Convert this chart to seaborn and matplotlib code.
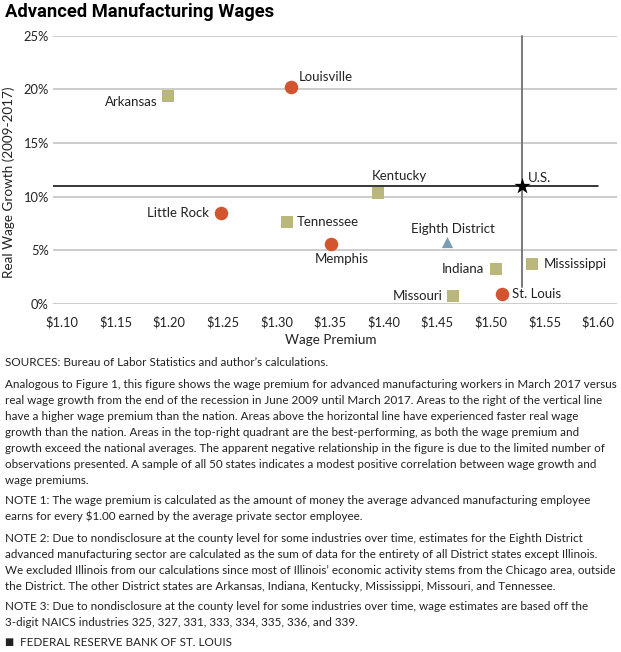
import matplotlib
matplotlib.use("Agg")
import matplotlib.pyplot as plt
import seaborn as sns
import pandas as pd

# ---------------- data ----------------
names = ["Arkansas", "Louisville", "Little Rock", "Tennessee", "Kentucky", "Memphis",
         "Eighth District", "Indiana", "Mississippi", "Missouri", "St. Louis", "U.S."]
premium = [1.199, 1.314, 1.248, 1.310, 1.395, 1.351, 1.459, 1.505, 1.538, 1.465, 1.510, 1.529]
growth = [19.4, 20.2, 8.5, 7.6, 10.3, 5.6, 5.8, 3.3, 3.7, 0.7, 0.9, 11.0]
kind = ["State", "City", "City", "State", "State", "City",
        "District", "State", "State", "State", "City", "Nation"]

us_premium = 1.529
us_growth = 11.0

x_ticks = [1.10, 1.15, 1.20, 1.25, 1.30, 1.35, 1.40, 1.45, 1.50, 1.55, 1.60]
x_tick_labels = ["$1.10", "$1.15", "$1.20", "$1.25", "$1.30", "$1.35", "$1.40",
                 "$1.45", "$1.50", "$1.55", "$1.60"]
y_ticks = [0, 5, 10, 15, 20, 25]
y_tick_labels = ["0%", "5%", "10%", "15%", "20%", "25%"]

title = "Advanced Manufacturing Wages"
x_label = "Wage Premium"
y_label = "Real Wage Growth (2009-2017)"

notes = [
    ["SOURCES: Bureau of Labor Statistics and author\u2019s calculations."],
    ["Analogous to Figure 1, this figure shows the wage premium for advanced manufacturing workers in March 2017 versus",
     "real wage growth from the end of the recession in June 2009 until March 2017. Areas to the right of the vertical line",
     "have a higher wage premium than the nation. Areas above the horizontal line have experienced faster real wage",
     "growth than the nation. Areas in the top-right quadrant are the best-performing, as both the wage premium and",
     "growth exceed the national averages. The apparent negative relationship in the figure is due to the limited number of",
     "observations presented. A sample of all 50 states indicates a modest positive correlation between wage growth and",
     "wage premiums."],
    ["NOTE 1: The wage premium is calculated as the amount of money the average advanced manufacturing employee",
     "earns for every $1.00 earned by the average private sector employee."],
    ["NOTE 2: Due to nondisclosure at the county level for some industries over time, estimates for the Eighth District",
     "advanced manufacturing sector are calculated as the sum of data for the entirety of all District states except Illinois.",
     "We excluded Illinois from our calculations since most of Illinois\u2019 economic activity stems from the Chicago area, outside",
     "the District. The other District states are Arkansas, Indiana, Kentucky, Mississippi, Missouri, and Tennessee."],
    ["NOTE 3: Due to nondisclosure at the county level for some industries over time, wage estimates are based off the",
     "3-digit NAICS industries 325, 327, 331, 333, 334, 335, 336, and 339."],
]
footer = "FEDERAL RESERVE BANK OF ST. LOUIS"

# ---------------- style ----------------
sns.set_theme(style="white")
plt.rcParams["font.family"] = ["Lato", "DejaVu Sans"]

W, H = 621, 652
fig = plt.figure(figsize=(W / 100, H / 100), dpi=100)

def fx(px):
    return px / W

def fy(py):
    return 1 - py / H

ax_left, ax_right, ax_top, ax_bot = 53, 617, 35.7, 304
ax = fig.add_axes([fx(ax_left), 1 - ax_bot / H, (ax_right - ax_left) / W, (ax_bot - ax_top) / H])

px_per_unit = (598 - 62) / 0.5
ax.set_xlim(1.10 - (62 - ax_left) / px_per_unit, 1.60 + (ax_right - 598) / px_per_unit)
ax.set_ylim(0, 25)

for yv in y_ticks:
    ax.axhline(yv, color="#c8c8c8", lw=1.3, zorder=0)

ax.axhline(us_growth, xmin=0, xmax=(1.60 - ax.get_xlim()[0]) / (ax.get_xlim()[1] - ax.get_xlim()[0]),
           color="black", lw=1.1, zorder=1)
ax.plot([us_premium, us_premium], [1.6, 25], color="#7a7a7a", lw=1.4, zorder=1, clip_on=False)

df = pd.DataFrame({"name": names, "premium": premium, "growth": growth, "kind": kind})
palette = {"State": "#b9b77c", "City": "#d35530", "District": "#7b9fb1", "Nation": "black"}
markers = {"State": "s", "City": "o", "District": "^", "Nation": "*"}
sizes = {"State": 72, "City": 95, "District": 65, "Nation": 150}
for k in ["State", "City", "District", "Nation"]:
    sub = df[df["kind"] == k]
    sns.scatterplot(data=sub, x="premium", y="growth", color=palette[k], marker=markers[k],
                    s=sizes[k], linewidth=0, ax=ax, zorder=3, clip_on=False, legend=False)

# label offsets in pixels (dx, dy, ha)
offsets = {
    "Arkansas": (-11, -6, "right"),
    "Louisville": (7, 10, "left"),
    "Little Rock": (-12, 0, "right"),
    "Tennessee": (10, 0, "left"),
    "Kentucky": (-6, 17, "left"),
    "Memphis": (11, -15, "center"),
    "Eighth District": (6, 13, "center"),
    "U.S.": (6, 8, "left"),
    "Indiana": (-12, 0, "right"),
    "Mississippi": (12, 0, "left"),
    "Missouri": (-11, 0, "right"),
    "St. Louis": (10, 0, "left"),
}
for n, xv, yv in zip(names, premium, growth):
    dx, dy, ha = offsets[n]
    ax.annotate(n, (xv, yv), xytext=(dx, dy), textcoords="offset pixels",
                ha=ha, va="center", fontsize=9.5, color="#222222")

ax.set_xticks(x_ticks)
ax.set_xticklabels(x_tick_labels)
ax.set_yticks(y_ticks)
ax.set_yticklabels(y_tick_labels)
ax.tick_params(axis="both", length=0, labelsize=9.3, colors="#222222")
ax.tick_params(axis="x", pad=8.5)
ax.tick_params(axis="y", pad=3)
for s in ax.spines.values():
    s.set_visible(False)
ax.set_xlabel("")
ax.set_ylabel("")
ax.grid(False)

fig.text(fx(331), fy(340), x_label, ha="center", va="center", fontsize=9.7, color="#222222")
fig.text(fx(9), fy(182), y_label, ha="center", va="center", rotation=90, fontsize=9.7, color="#222222")

fig.text(fx(5), fy(12), title, ha="left", va="center", fontsize=13.2, fontweight="bold",
         family=["Roboto", "DejaVu Sans"], color="black")

# notes
para_starts = [363, 384, 500, 538, 607]
for para, y0 in zip(notes, para_starts):
    for i, line in enumerate(para):
        fig.text(fx(5), fy(y0 + 16 * i), line, ha="left", va="center", fontsize=8.38, color="#222222")

fig.text(fx(4), fy(642), "\u25A0", ha="left", va="center", fontsize=7, color="#222222",
         family=["DejaVu Sans"])
fig.text(fx(20), fy(642), footer, ha="left", va="center", fontsize=8.4, color="#222222")

fig.savefig("out.png", dpi=100)
